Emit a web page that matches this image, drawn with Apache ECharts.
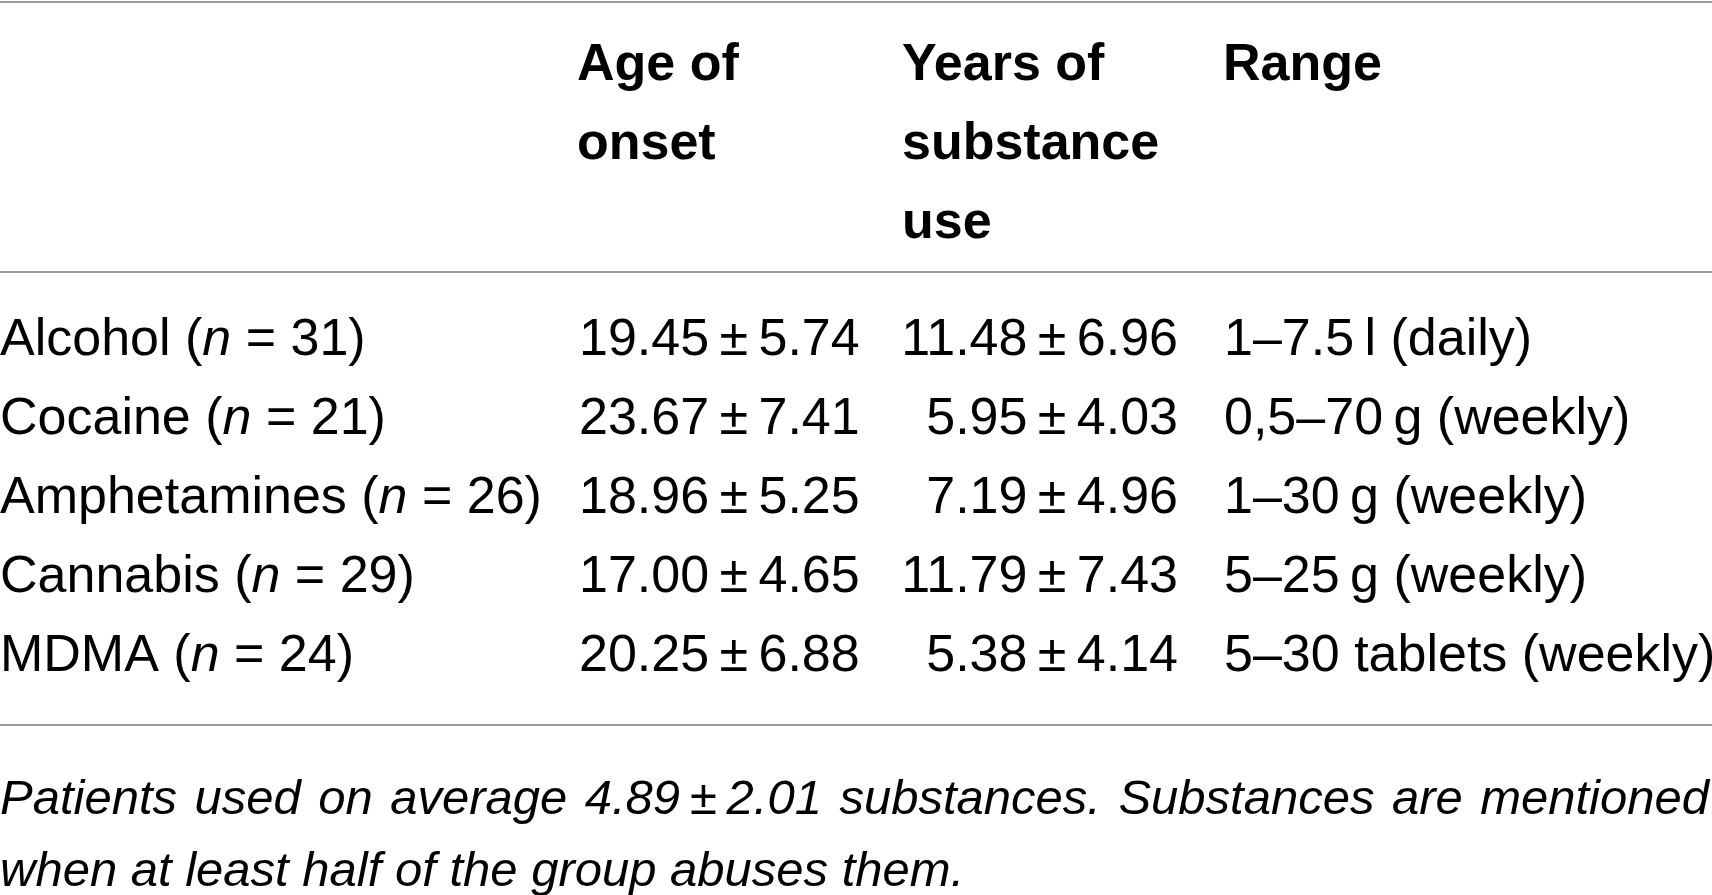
<!DOCTYPE html>
<html>
<head>
<meta charset="utf-8">
<script src="https://cdn.jsdelivr.net/npm/echarts@6/dist/echarts.min.js"></script>
<style>
  html, body { margin: 0; padding: 0; background: #fff; }
  #container { width: 1712px; height: 895px; }
</style>
</head>
<body>
<div id="container"></div>
<script>
// datos de la tabla
var substances = ['Alcohol', 'Cocaine', 'Amphetamines', 'Cannabis', 'MDMA'];
var nValues = [31, 21, 26, 29, 24];
var onsetMean = [19.45, 23.67, 18.96, 17.00, 20.25];
var onsetSD = [5.74, 7.41, 5.25, 4.65, 6.88];
var yearsMean = [11.48, 5.95, 7.19, 11.79, 5.38];
var yearsSD = [6.96, 4.03, 4.96, 7.43, 4.14];
var ranges = ['1–7.5\u2009l (daily)', '0,5–70\u2009g (weekly)', '1–30\u2009g (weekly)', '5–25\u2009g (weekly)', '5–30 tablets (weekly)'];
var headers = ['Age of\nonset', 'Years of\nsubstance\nuse', 'Range'];
var footLine1 = ['Patients', 'used', 'on', 'average', '4.89\u2009±\u20092.01', 'substances.', 'Substances', 'are', 'mentioned'];
var footLine2 = 'when at least half of the group abuses them.';

var FONT = '"Liberation Sans", Arial, Helvetica, sans-serif';
var W = 1712;

document.addEventListener('DOMContentLoaded', function () {
    var dom = document.getElementById('container');
    var myChart = echarts.init(dom, null, { renderer: 'canvas' });

    // columnas: ancla x y alineación
    var colX = [0, 579, 1178, 1224];
    var colAlign = ['left', 'left', 'right', 'left'];

    function pm(m, s) {
        return m.toFixed(2) + '\u2009±\u2009' + s.toFixed(2);
    }

    var cells = [];
    substances.forEach(function (name, i) {
        cells.push([0, i, '{t|' + name + ' (}{i|n}{t| = ' + nValues[i] + ')}']);
        cells.push([1, i, '{t|' + pm(onsetMean[i], onsetSD[i]) + '}']);
        cells.push([2, i, '{t|' + pm(yearsMean[i], yearsSD[i]) + '}']);
        cells.push([3, i, '{t|' + ranges[i] + '}']);
    });

    // justificar la primera línea de la nota
    var ctx = document.createElement('canvas').getContext('2d');
    var footFont = 'italic 49px ' + FONT;
    ctx.font = footFont;
    var widths = footLine1.map(function (w) { return ctx.measureText(w).width; });
    var total = widths.reduce(function (a, b) { return a + b; }, 0);
    var gap = (1709 - total) / (footLine1.length - 1);
    var footGraphics = [];
    var x = 0;
    footLine1.forEach(function (w, k) {
        footGraphics.push({
            type: 'text', x: x, y: 800,
            style: { text: w, font: footFont, fill: '#000', verticalAlign: 'middle' }
        });
        x += widths[k] + gap;
    });
    footGraphics.push({
        type: 'text', x: 0, y: 872,
        style: { text: footLine2, font: footFont, fill: '#000', verticalAlign: 'middle' }
    });

    var lineStyle = { stroke: '#9a9a9a', lineWidth: 2 };
    var headerGraphics = [577, 902, 1223].map(function (hx, k) {
        return {
            type: 'text', x: hx, y: 26,
            style: {
                text: headers[k], font: 'bold 52px ' + FONT, fill: '#000',
                lineHeight: 79, verticalAlign: 'top'
            }
        };
    });

    var option = {
        animation: false,
        grid: { left: 0, right: 0, top: 301, height: 395, containLabel: false },
        xAxis: { type: 'value', min: 0, max: W, show: false },
        yAxis: { type: 'category', data: substances, inverse: true, show: false },
        graphic: [
            { type: 'line', shape: { x1: 0, y1: 2, x2: W, y2: 2 }, style: lineStyle },
            { type: 'line', shape: { x1: 0, y1: 272, x2: W, y2: 272 }, style: lineStyle },
            { type: 'line', shape: { x1: 0, y1: 725, x2: W, y2: 725 }, style: lineStyle }
        ].concat(headerGraphics, footGraphics),
        series: [{
            type: 'custom',
            data: cells,
            renderItem: function (params, api) {
                var col = api.value(0);
                var p = api.coord([colX[col], api.value(1)]);
                return {
                    type: 'text',
                    x: p[0], y: p[1],
                    style: {
                        text: cells[params.dataIndex][2],
                        align: colAlign[col],
                        verticalAlign: 'middle',
                        rich: {
                            t: { font: '52px ' + FONT, fill: '#000' },
                            i: { font: 'italic 52px ' + FONT, fill: '#000' }
                        }
                    }
                };
            }
        }]
    };

    myChart.setOption(option);
    window.addEventListener('resize', myChart.resize);
});
</script>
</body>
</html>
